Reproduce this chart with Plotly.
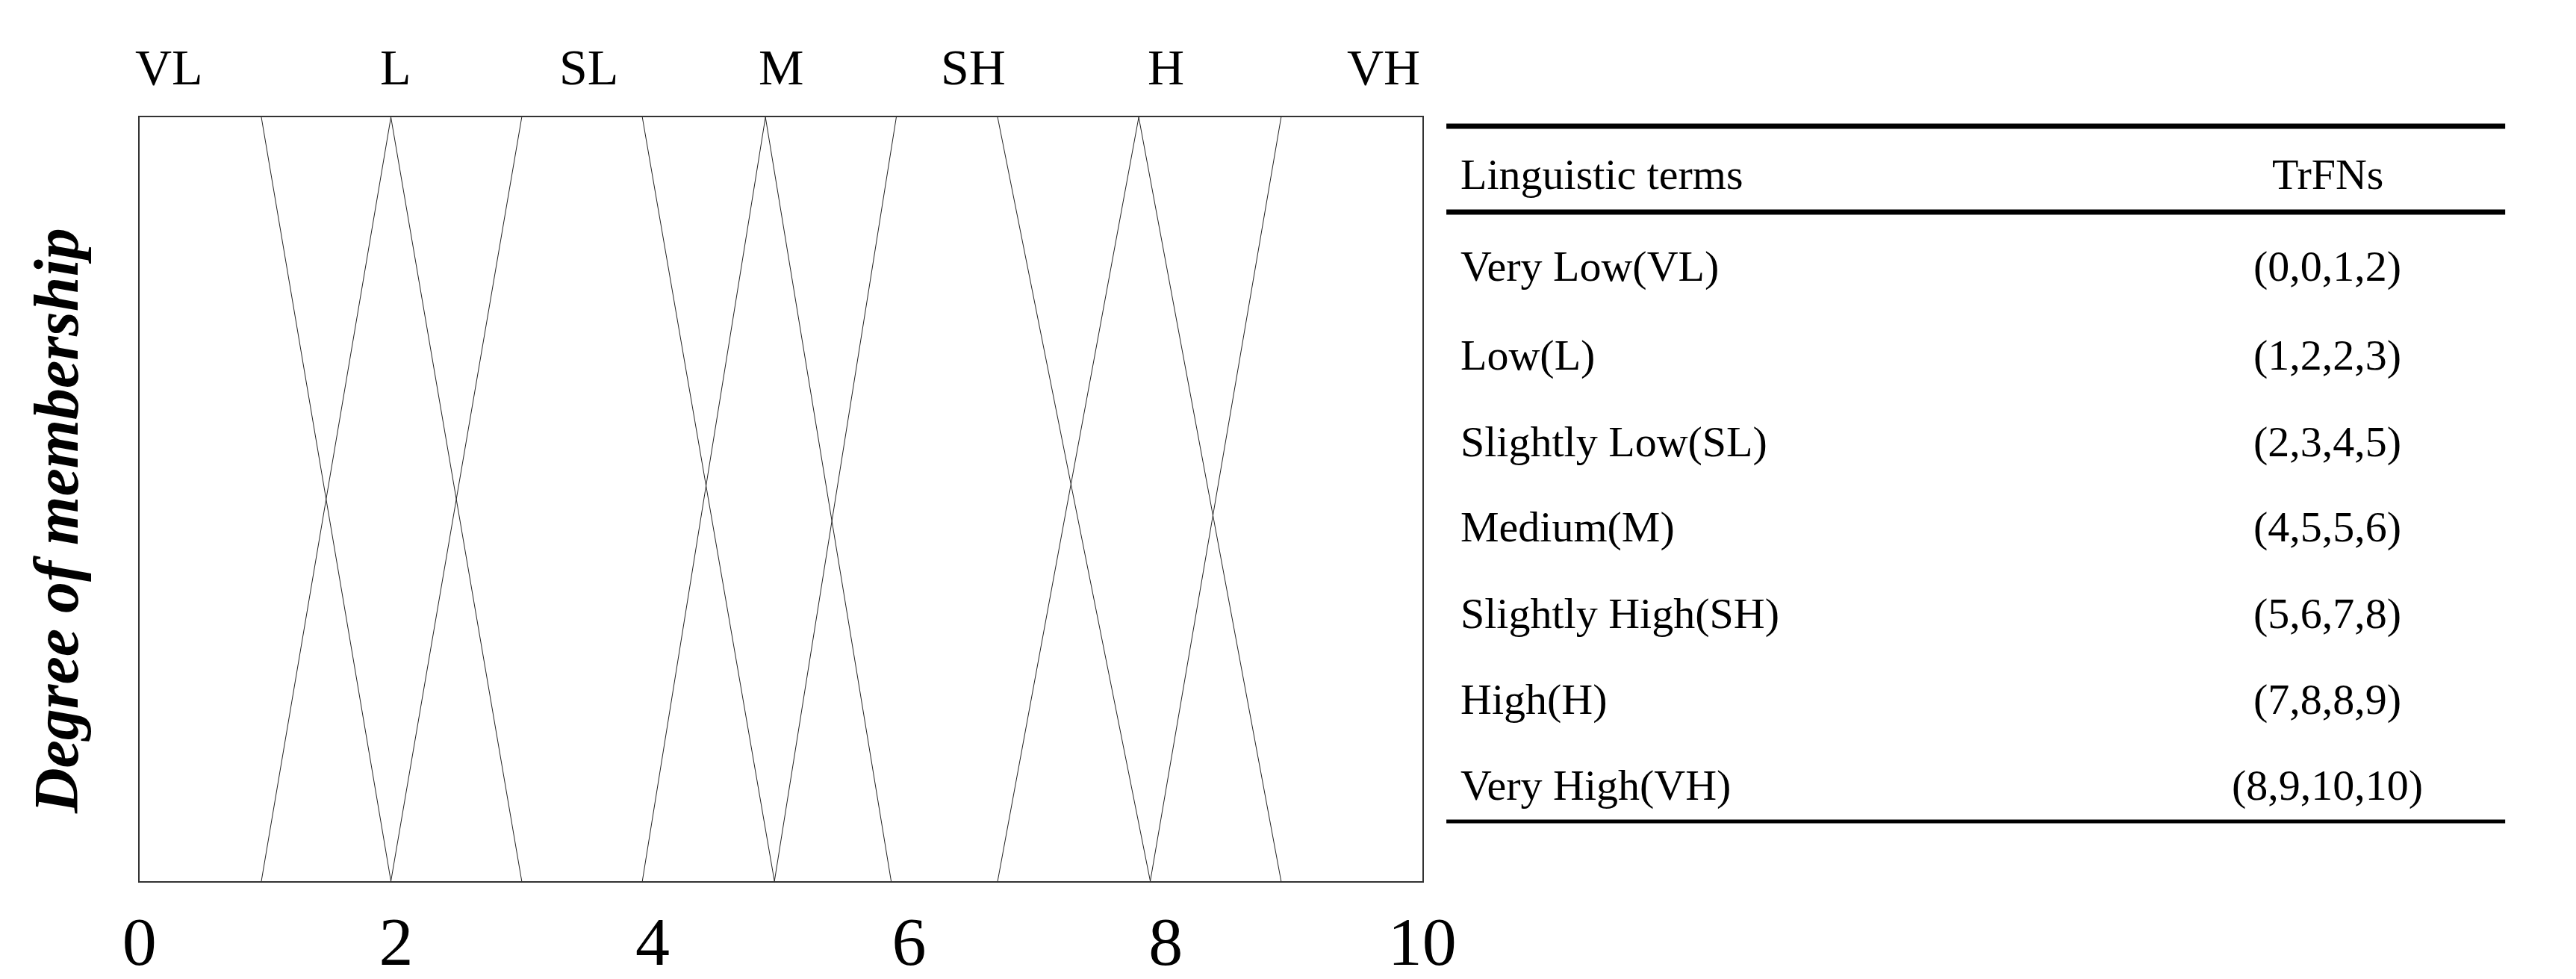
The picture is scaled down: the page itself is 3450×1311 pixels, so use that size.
import plotly.graph_objects as go

# segment endpoints (x at top y=1, x at bottom y=0)
seg_x0 = [0.95, 0.95, 1.96, 1.96, 3.92, 3.92, 4.88, 4.95, 6.69, 6.69, 7.79, 7.88]
seg_y0 = [1, 0, 1, 0, 1, 0, 1, 0, 1, 0, 1, 0]
seg_x1 = [1.96, 1.96, 2.98, 2.98, 4.95, 4.88, 5.86, 5.90, 7.88, 7.79, 8.90, 8.90]
seg_y1 = [0, 1, 0, 1, 0, 1, 0, 1, 0, 1, 0, 1]

term_abbr = ["VL", "L", "SL", "M", "SH", "H", "VH"]
term_abbr_x = [0.23, 2.0, 3.5, 5.0, 6.5, 8.0, 9.7]
x_ticks = [0, 2, 4, 6, 8, 10]

table_header = ["Linguistic terms", "TrFNs"]
term_names = ["Very Low(VL)", "Low(L)", "Slightly Low(SL)", "Medium(M)",
              "Slightly High(SH)", "High(H)", "Very High(VH)"]
term_trfn = ["(0,0,1,2)", "(1,2,2,3)", "(2,3,4,5)", "(4,5,5,6)",
             "(5,6,7,8)", "(7,8,8,9)", "(8,9,10,10)"]

W, H = 3450, 1311
font = "Liberation Serif"
fig = go.Figure()
for a, b, c, d in zip(seg_x0, seg_y0, seg_x1, seg_y1):
    fig.add_trace(go.Scatter(x=[a, c], y=[b, d], mode="lines",
                             line=dict(color="#222", width=1),
                             showlegend=False, hoverinfo="skip"))

def txt(x, y, t, size, xref="paper", xanchor="center"):
    return dict(x=x, y=y, xref=xref, yref="paper", text=t, showarrow=False,
                xanchor=xanchor, yanchor="middle",
                font=dict(family=font, size=size, color="black"))

ann = []
for t, x in zip(term_abbr, term_abbr_x):
    ann.append(txt(x, 1 - 82 / H, t, 68, xref="x"))
ann.append(txt(1962 / W, 1 - 225 / H, table_header[0], 58, xanchor="left"))
ann.append(txt(3149 / W, 1 - 225 / H, table_header[1], 58))
rows_y = [349, 468, 583, 698, 813, 928, 1043]
for n, v, ry in zip(term_names, term_trfn, rows_y):
    ann.append(txt(1962 / W, 1 - ry / H, n, 58, xanchor="left"))
    ann.append(txt(3149 / W, 1 - ry / H, v, 58))
ann.append(dict(x=45 / W, y=1 - 690 / H, xref="paper", yref="paper", textangle=-90,
                text="<b><i>Degree of membership</i></b>", showarrow=False,
                xanchor="center", yanchor="middle",
                font=dict(family=font, size=84, color="black")))

shapes = []
for ly, lw in [(161, 7), (276, 7), (1092, 5)]:
    shapes.append(dict(type="line", xref="paper", yref="paper", x0=1945 / W, x1=3392 / W,
                       y0=1 - ly / H, y1=1 - ly / H, line=dict(color="black", width=lw)))

fig.update_layout(
    width=W, height=H, margin=dict(l=0, r=0, t=0, b=0),
    plot_bgcolor="white", paper_bgcolor="white",
    annotations=ann, shapes=shapes,
    xaxis=dict(domain=[159 / W, 1912 / W], range=[0, 10], tickvals=x_ticks,
               showgrid=False, zeroline=False, showline=True, mirror=True,
               linecolor="#333", linewidth=1.5, ticks="", ticklabelstandoff=0,
               tickfont=dict(family=font, size=92, color="black")),
    yaxis=dict(domain=[1 - 1172 / H, 1 - 149 / H], range=[0, 1], showticklabels=False,
               showgrid=False, zeroline=False, showline=True, mirror=True,
               linecolor="#333", linewidth=1.5, ticks=""),
)
fig.write_html("out.html")
